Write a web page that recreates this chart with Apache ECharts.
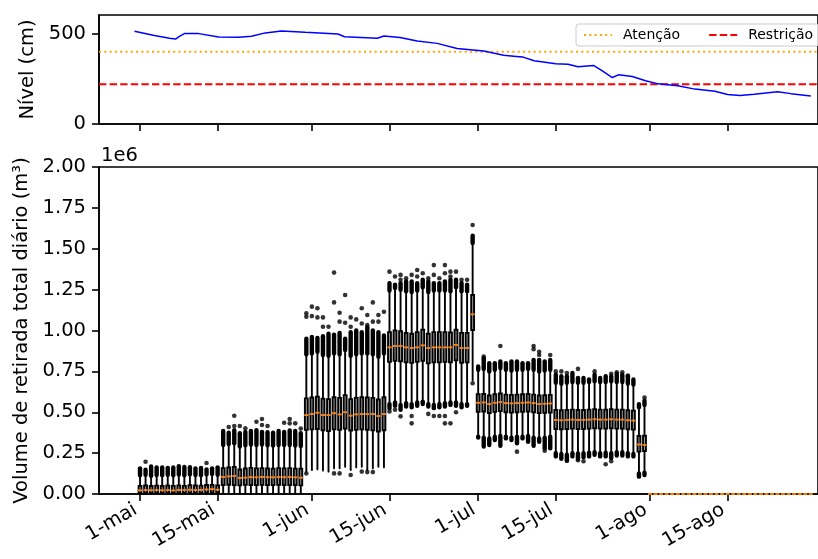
<!DOCTYPE html>
<html>
<head>
<meta charset="utf-8">
<script src="https://cdn.jsdelivr.net/npm/echarts@6/dist/echarts.min.js"></script>
<style>html,body{margin:0;padding:0;background:#fff}#c{width:818px;height:559px}</style>
</head>
<body>
<div id="c"></div>
<script>
// ---- Eixo de datas (dias contados a partir de 1-mai) ----
const tickDias = [0, 14, 31, 45, 61, 75, 92, 106];
const tickRotulos = ['1-mai', '15-mai', '1-jun', '15-jun', '1-jul', '15-jul', '1-ago', '15-ago'];
const xMinDia = -7.4, xMaxDia = 122.3;

// ---- Painel superior: nível (cm) ----
const nivelDias = [-1, 2.6, 5.3, 6.4, 7.1, 8.0, 10.6, 14.2, 17.8, 20.1, 22.6, 25.5, 29.8, 35.7, 36.9, 42.8, 44.0, 46.9, 50.0, 53.6, 57.2, 62.0, 65.6, 67.9, 69.1, 71.1, 75.0, 77.2, 79.0, 81.8, 83.4, 85.2, 86.3, 88.8, 91.2, 93.5, 97.0, 100.1, 103.7, 106.0, 108.2, 110.8, 115.0, 117.4, 121.0];
const nivelValores = [513, 489, 474, 470, 485, 500, 500, 481, 480, 485, 504, 515, 507, 498, 483, 474, 487, 478, 459, 446, 418, 404, 380, 374, 370, 350, 333, 331, 317, 324, 294, 257, 272, 263, 239, 222, 211, 193, 181, 163, 157, 165, 179, 168, 155];
const nivelAtencao = 400;
const nivelRestricao = 220;

// ---- Painel inferior: boxplots diários (valores em 1e6 m³) ----
const boxDias = [0,1,2,3,4,5,6,7,8,9,10,11,12,13,14,15,16,17,18,19,20,21,22,23,24,25,26,27,28,29,30,31,32,33,34,35,36,37,38,39,40,41,42,43,44,45,46,47,48,49,50,51,52,53,54,55,56,57,58,59,60,61,62,63,64,65,66,67,68,69,70,71,72,73,74,75,76,77,78,79,80,81,82,83,84,85,86,87,88,89,90,91];
const bigodeInf = [0,0,0,0,0,0,0,0,0,0,0,0,0,0,0,
  0.002,0.001,0.002,0.003,0.002,0.001,0.002,0.002,0.001,0.002,0.003,0.002,0.001,0.002,0.002,
  0.137,0.147,0.151,0.143,0.137,0.157,0.157,0.167,0.147,0.163,0.167,0.147,0.157,0.167,0.163,
  0.55,0.56,0.545,0.555,0.55,0.56,0.565,0.55,0.545,0.55,0.555,0.56,0.56,0.55,0.55,
  0.695,
  0.35,0.345,0.34,0.35,0.355,0.35,0.345,0.35,0.35,0.355,0.345,0.34,0.345,0.35,
  0.25,0.245,0.24,0.25,0.248,0.25,0.252,0.255,0.25,0.252,0.25,0.255,0.255,0.25,0.245,
  0.125,0.13];
const quartil1 = [0.006,0.007,0.006,0.007,0.006,0.006,0.007,0.006,0.007,0.006,0.007,0.006,0.008,0.008,0.009,
  0.055,0.057,0.054,0.053,0.056,0.055,0.054,0.056,0.055,0.054,0.056,0.055,0.054,0.055,0.053,
  0.392,0.395,0.398,0.390,0.385,0.395,0.392,0.400,0.388,0.392,0.395,0.393,0.390,0.382,0.390,
  0.808,0.815,0.812,0.805,0.802,0.808,0.815,0.800,0.806,0.805,0.808,0.806,0.818,0.803,0.805,
  1.003,
  0.503,0.505,0.495,0.502,0.507,0.500,0.498,0.500,0.503,0.505,0.500,0.495,0.497,0.498,
  0.398,0.396,0.398,0.400,0.398,0.398,0.400,0.402,0.400,0.400,0.402,0.400,0.400,0.396,0.394,
  0.259,0.262];
const mediana = [0.022,0.024,0.023,0.024,0.023,0.024,0.022,0.025,0.024,0.026,0.024,0.025,0.028,0.030,0.026,
  0.104,0.108,0.110,0.098,0.100,0.103,0.102,0.104,0.103,0.102,0.104,0.103,0.104,0.102,0.100,
  0.483,0.489,0.497,0.483,0.483,0.494,0.487,0.500,0.479,0.487,0.489,0.489,0.489,0.477,0.489,
  0.897,0.905,0.905,0.897,0.893,0.897,0.909,0.893,0.897,0.897,0.897,0.897,0.912,0.893,0.893,
  1.099,
  0.558,0.560,0.550,0.558,0.562,0.556,0.554,0.556,0.558,0.560,0.556,0.550,0.552,0.554,
  0.453,0.451,0.453,0.455,0.453,0.453,0.455,0.457,0.455,0.455,0.457,0.455,0.455,0.451,0.449,
  0.303,0.300];
const quartil3 = [0.050,0.052,0.049,0.051,0.050,0.052,0.050,0.053,0.050,0.054,0.052,0.051,0.055,0.056,0.053,
  0.158,0.162,0.165,0.150,0.156,0.160,0.157,0.158,0.156,0.155,0.158,0.157,0.158,0.155,0.154,
  0.585,0.590,0.595,0.583,0.580,0.592,0.588,0.605,0.580,0.588,0.592,0.590,0.588,0.578,0.592,
  0.990,1.000,0.995,0.985,0.980,0.990,1.005,0.980,0.990,0.990,0.990,0.988,1.005,0.985,0.985,
  1.217,
  0.610,0.612,0.602,0.610,0.615,0.608,0.606,0.608,0.610,0.612,0.608,0.602,0.604,0.606,
  0.514,0.512,0.514,0.516,0.514,0.514,0.516,0.518,0.516,0.516,0.518,0.516,0.516,0.512,0.510,
  0.355,0.356];
const bigodeSup = [0.115,0.118,0.112,0.116,0.114,0.118,0.115,0.119,0.114,0.120,0.116,0.115,0.121,0.123,0.118,
  0.300,0.306,0.310,0.290,0.298,0.302,0.300,0.302,0.298,0.296,0.300,0.300,0.300,0.296,0.294,
  0.855,0.860,0.870,0.850,0.845,0.860,0.855,0.880,0.845,0.855,0.860,0.860,0.855,0.840,0.860,
  1.245,1.260,1.250,1.240,1.235,1.245,1.265,1.235,1.245,1.245,1.245,1.240,1.265,1.240,1.240,
  1.535,
  0.760,0.765,0.750,0.760,0.770,0.760,0.755,0.760,0.760,0.765,0.760,0.750,0.755,0.760,
  0.680,0.675,0.680,0.685,0.680,0.680,0.685,0.690,0.685,0.685,0.690,0.685,0.685,0.675,0.670,
  0.530,0.545];
// topo da pilha densa de outliers superiores
const outlierTopo = [0.157,0.148,0.168,0.163,0.162,0.160,0.162,0.170,0.165,0.164,0.156,0.160,0.150,0.157,0.163,
  0.385,0.375,0.390,0.372,0.380,0.385,0.390,0.380,0.378,0.375,0.385,0.380,0.388,0.385,0.372,
  0.950,0.960,0.955,0.965,0.980,0.975,0.985,0.950,0.990,1.000,0.990,1.020,1.000,0.990,0.970,
  1.290,1.280,1.290,1.300,1.300,1.290,1.310,1.300,1.290,1.290,1.300,1.310,1.310,1.290,1.280,
  1.580,
  0.780,0.830,0.800,0.800,0.810,0.800,0.810,0.810,0.800,0.800,0.820,0.820,0.810,0.820,
  0.730,0.720,0.720,0.740,0.710,0.710,0.700,0.730,0.710,0.720,0.720,0.735,0.730,0.720,0.700,
  0.550,0.570];
// base da pilha densa de outliers inferiores
const outlierBase = [0,0,0,0,0,0,0,0,0,0,0,0,0,0,0,
  0.002,0.001,0.002,0.003,0.002,0.001,0.002,0.002,0.001,0.002,0.003,0.002,0.001,0.002,0.002,
  0.137,0.147,0.151,0.143,0.137,0.157,0.157,0.167,0.147,0.163,0.167,0.147,0.157,0.167,0.163,
  0.525,0.540,0.515,0.535,0.530,0.540,0.550,0.535,0.525,0.530,0.535,0.545,0.540,0.530,0.540,
  0.695,
  0.345,0.290,0.300,0.330,0.295,0.340,0.330,0.310,0.340,0.320,0.295,0.320,0.280,0.280,
  0.230,0.215,0.205,0.230,0.215,0.225,0.230,0.240,0.230,0.230,0.220,0.235,0.235,0.230,0.230,
  0.106,0.116];
// outliers isolados
const outlierDias = [1,12,
  16,17,17,18,19,21,22,22,23,26,27,27,28,29,
  30,30,31,31,32,32,33,33,34,35,35,36,36,37,37,38,38,39,40,40,41,41,42,42,43,43,44,
  30,35,36,38,40,41,42,
  45,46,47,47,48,49,50,50,51,52,53,53,54,55,55,56,56,57,58,59,
  45,46,47,49,49,52,53,54,55,55,56,57,
  60,60,
  62,65,71,71,72,72,74,68,73,
  75,76,77,79,82,85,86,87,88,77,79,80,84,85,
  91];
const outlierValores = [0.197,0.190,
  0.41,0.479,0.416,0.416,0.402,0.442,0.459,0.422,0.416,0.436,0.459,0.432,0.432,0.40,
  1.105,1.084,1.146,1.088,1.136,1.080,1.080,1.023,1.023,1.354,1.172,1.109,1.054,1.217,1.047,1.08,1.023,1.068,1.136,1.043,1.095,1.033,1.172,1.054,1.095,1.054,1.115,
  0.125,0.126,0.126,0.116,0.137,0.134,0.134,
  1.36,1.33,1.31,1.34,1.32,1.34,1.37,1.33,1.35,1.32,1.40,1.34,1.32,1.40,1.35,1.36,1.33,1.36,1.31,1.31,
  0.505,0.515,0.475,0.477,0.432,0.49,0.477,0.477,0.477,0.432,0.432,0.50,
  1.645,0.677,
  0.84,0.905,0.905,0.885,0.87,0.85,0.85,0.259,0.265,
  0.75,0.75,0.74,0.765,0.75,0.735,0.745,0.745,0.725,0.204,0.207,0.20,0.182,0.20,
  0.59];
// dias sem retirada (todos os valores iguais a zero)
const diasZero = [92,93,94,95,96,97,98,99,100,101,102,103,104,105,106,107,108,109,110,111,112,113,114,115,116,117,118,119,120,121];

const yTicksNivel = [0, 500];
const FONT = '"DejaVu Sans", sans-serif';

// ---- construção dos dados para a biblioteca ----
const nivelData = nivelDias.map((d, i) => [d, nivelValores[i]]);
const boxData = boxDias.map((d, i) => [d, bigodeInf[i], quartil1[i], mediana[i], quartil3[i], bigodeSup[i]])
  .concat(diasZero.map(d => [d, 0, 0, 0, 0, 0]));
const pilhaData = [];
boxDias.forEach((d, i) => {
  if (outlierTopo[i] > bigodeSup[i]) pilhaData.push([d, bigodeSup[i], outlierTopo[i]]);
  if (outlierBase[i] < bigodeInf[i]) pilhaData.push([d, outlierBase[i], bigodeInf[i]]);
});
const outlierData = outlierDias.map((d, i) => [d, outlierValores[i]]);

function renderBox(params, api) {
  const d = api.value(0);
  const pLo = api.coord([d, api.value(1)]);
  const pQ1 = api.coord([d, api.value(2)]);
  const pMd = api.coord([d, api.value(3)]);
  const pQ3 = api.coord([d, api.value(4)]);
  const pHi = api.coord([d, api.value(5)]);
  const bw = api.size([0.52, 0])[0];
  const x = pMd[0];
  const ls = () => ({ stroke: '#000', lineWidth: 1.9 });
  return {
    type: 'group',
    children: [
      { type: 'line', shape: { x1: x, y1: pLo[1], x2: x, y2: pQ1[1] }, style: ls() },
      { type: 'line', shape: { x1: x, y1: pQ3[1], x2: x, y2: pHi[1] }, style: ls() },
      { type: 'line', shape: { x1: x - bw / 4, y1: pLo[1], x2: x + bw / 4, y2: pLo[1] }, style: ls() },
      { type: 'line', shape: { x1: x - bw / 4, y1: pHi[1], x2: x + bw / 4, y2: pHi[1] }, style: ls() },
      { type: 'rect', shape: { x: x - bw / 2, y: pQ3[1], width: bw, height: pQ1[1] - pQ3[1] }, style: { fill: '#9a9a9a', stroke: '#000', lineWidth: 1.9 } },
      { type: 'line', shape: { x1: x - bw / 2 - 0.6, y1: pMd[1], x2: x + bw / 2 + 0.6, y2: pMd[1] }, style: { stroke: '#ff7f0e', lineWidth: 1.9 } }
    ]
  };
}
function renderPilha(params, api) {
  const d = api.value(0);
  const a = api.coord([d, api.value(1)]);
  const b = api.coord([d, api.value(2)]);
  return { type: 'line', shape: { x1: a[0], y1: a[1], x2: b[0], y2: b[1] }, style: { stroke: '#000', lineWidth: 4.4, lineCap: 'round' } };
}

const axisLineStyle = { color: '#000', width: 1.6 };
const chart = echarts.init(document.getElementById('c'), null, { renderer: 'canvas' });
chart.setOption({
  animation: false,
  backgroundColor: '#fff',
  textStyle: { fontFamily: FONT },
  grid: [
    { left: 99, top: 15, width: 727, height: 109, show: true, borderColor: '#000', borderWidth: 1.6, backgroundColor: 'transparent' },
    { left: 99, top: 167, width: 727, height: 327, show: true, borderColor: '#000', borderWidth: 1.6, backgroundColor: 'transparent' }
  ],
  xAxis: [
    { type: 'value', gridIndex: 0, min: xMinDia, max: xMaxDia, splitLine: { show: false },
      axisLine: { onZero: false, lineStyle: axisLineStyle },
      axisTick: { customValues: tickDias, length: 7, lineStyle: axisLineStyle },
      axisLabel: { show: false } },
    { type: 'value', gridIndex: 1, min: xMinDia, max: xMaxDia, splitLine: { show: false },
      axisLine: { onZero: false, lineStyle: axisLineStyle },
      axisTick: { customValues: tickDias, length: 7, lineStyle: axisLineStyle },
      axisLabel: { customValues: tickDias, rotate: 30, margin: 12, fontSize: 19.5, color: '#000', fontFamily: FONT,
        padding: [0, 5, 0, 0],
        formatter: v => { const i = tickDias.indexOf(Math.round(v)); return i >= 0 ? tickRotulos[i] : ''; } } }
  ],
  yAxis: [
    { type: 'value', gridIndex: 0, min: 0, max: 603, splitLine: { show: false },
      name: 'Nível (cm)', nameLocation: 'middle', nameRotate: 90, nameGap: 50,
      nameTextStyle: { fontSize: 19.5, color: '#000', fontFamily: FONT },
      axisLine: { onZero: false, lineStyle: axisLineStyle },
      axisTick: { customValues: yTicksNivel, length: 7, lineStyle: axisLineStyle },
      axisLabel: { customValues: yTicksNivel, margin: 13, fontSize: 19.5, color: '#000', fontFamily: FONT } },
    { type: 'value', gridIndex: 1, min: 0, max: 2.0, interval: 0.25, splitLine: { show: false },
      name: 'Volume de retirada total diário (m³)', nameLocation: 'middle', nameRotate: 90, nameGap: 53,
      nameTextStyle: { fontSize: 19.5, color: '#000', fontFamily: FONT },
      axisLine: { onZero: false, lineStyle: axisLineStyle },
      axisTick: { length: 7, lineStyle: axisLineStyle },
      axisLabel: { margin: 13, fontSize: 19.5, color: '#000', fontFamily: FONT, formatter: v => v.toFixed(2) } }
  ],
  legend: {
    data: ['Atenção', 'Restrição'],
    orient: 'horizontal',
    left: 576, top: 24, width: 300,
    itemWidth: 28, itemHeight: 14, itemGap: 28,
    padding: [4, 6, 4, 7],
    borderColor: '#cccccc', borderWidth: 1, borderRadius: 3,
    backgroundColor: 'rgba(255,255,255,0.8)',
    textStyle: { fontSize: 14, color: '#000', fontFamily: FONT, padding: [0, 0, 0, 6] }
  },
  graphic: [
    { type: 'text', left: 101, top: 146, style: { text: '1e6', font: '19.5px "DejaVu Sans"', fill: '#000' } }
  ],
  series: [
    { name: 'Nível', type: 'line', xAxisIndex: 0, yAxisIndex: 0, data: nivelData, symbol: 'none',
      lineStyle: { color: '#0000ff', width: 1.5 }, z: 3 },
    { name: 'Atenção', type: 'line', xAxisIndex: 0, yAxisIndex: 0, symbol: 'none',
      data: [[xMinDia, nivelAtencao], [xMaxDia, nivelAtencao]],
      itemStyle: { color: '#ffa500', opacity: 0 },
      lineStyle: { color: '#ffa500', width: 2, type: [2, 3.3], opacity: 1 }, z: 2 },
    { name: 'Restrição', type: 'line', xAxisIndex: 0, yAxisIndex: 0, symbol: 'none',
      data: [[xMinDia, nivelRestricao], [xMaxDia, nivelRestricao]],
      itemStyle: { color: '#ff0000', opacity: 0 },
      lineStyle: { color: '#ff0000', width: 2, type: [7.4, 3.2], opacity: 1 }, z: 2 },
    { name: 'pilhas', type: 'custom', xAxisIndex: 1, yAxisIndex: 1, data: pilhaData,
      encode: { x: 0, y: [1, 2] }, renderItem: renderPilha, z: 2 },
    { name: 'outliers', type: 'scatter', xAxisIndex: 1, yAxisIndex: 1, data: outlierData,
      symbol: 'circle', symbolSize: 4.6, itemStyle: { color: '#000' }, z: 2 },
    { name: 'caixas', type: 'custom', xAxisIndex: 1, yAxisIndex: 1, data: boxData,
      encode: { x: 0, y: [1, 2, 3, 4, 5] }, renderItem: renderBox, z: 3 }
  ]
});
</script>
</body>
</html>
